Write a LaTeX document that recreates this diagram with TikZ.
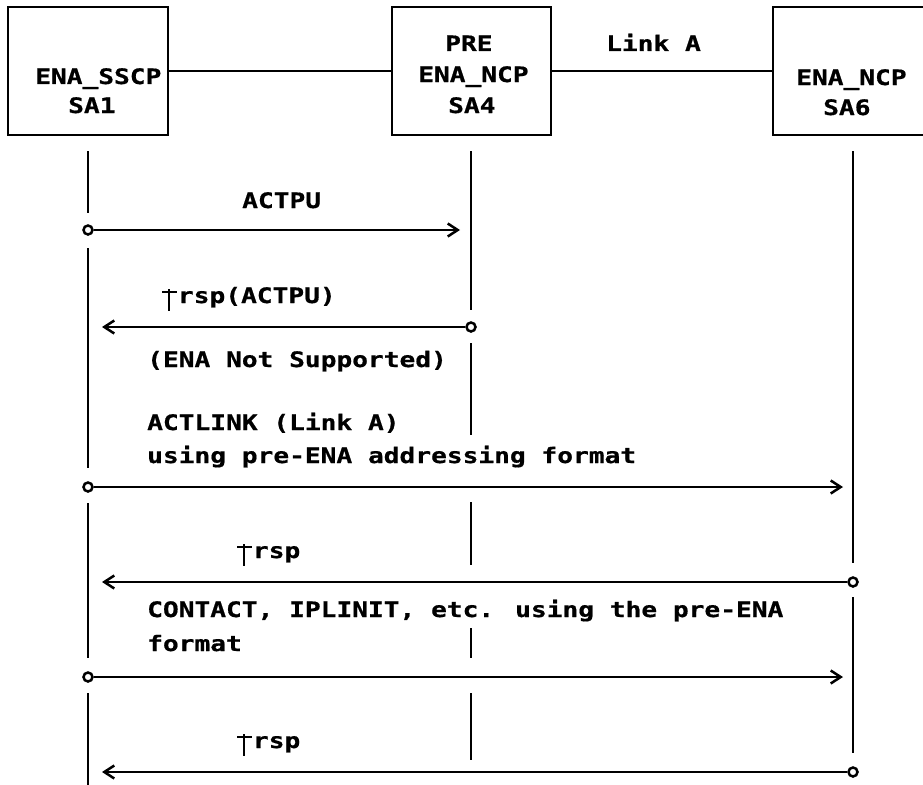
\documentclass[tikz,border=0pt]{standalone}
\usepackage{fontspec}
\newfontfamily\seqfont{DejaVu Sans Mono}[FakeStretch=1.23, BoldFeatures={FakeBold=0.7}]
\usetikzlibrary{arrows.meta}
% positive-response mark: crossbar near x-height, stem down into the descender
\newcommand\rspmark{\makebox[15.8pt][l]{\rule[10pt]{15pt}{2.5pt}\hspace{-9.4pt}\rule[-7.5pt]{2.6pt}{22pt}}}
\begin{document}
\begin{tikzpicture}[x=1pt,y=-1pt,
  lbl/.style={font=\seqfont\bfseries\fontsize{21.3}{26}\selectfont, anchor=base west, inner sep=0pt},
  box/.style={draw, line width=2.8pt, minimum height=128pt, inner sep=0pt},
  life/.style={line width=2.5pt},
  msg/.style={line width=2.3pt},
  tip/.style={-{Straight Barb[length=10pt,width=13pt,line width=2.5pt]}},
  ep/.style={circle, draw, line width=2.5pt, inner sep=0pt, minimum size=9pt, fill=white}]
\useasboundingbox (0,0) rectangle (923,784);
\clip (0,0) rectangle (923,784);

% nodes of the configuration
\node[box, minimum width=160pt] (sscp) at (88,71) {};
\node[box, minimum width=159pt] (pre) at (471.5,71) {};
\node[box, minimum width=159pt] (ncp) at (852.5,71) {};
\draw[life] (sscp.east) -- (pre.west);
\draw[life] (pre.east) -- (ncp.west);

\node[lbl] (t_sscp) at (35,84) {ENA\_SSCP};
\node[lbl] (t_sa1) at (68,113) {SA1};
\node[lbl] (t_pre) at (445,51) {PRE};
\node[lbl] (t_ncp4) at (418,82) {ENA\_NCP};
\node[lbl] (t_sa4) at (448,113) {SA4};
\node[lbl] (t_ncp6) at (796,85) {ENA\_NCP};
\node[lbl] (t_sa6) at (823,115) {SA6};
\node[lbl] (t_link) at (606,51) {Link A};

% lifelines
\draw[life] (88,151) -- (88,213);
\draw[life] (88,248) -- (88,468);
\draw[life] (88,503) -- (88,658);
\draw[life] (88,693) -- (88,790);
\draw[life] (471,151) -- (471,310);
\draw[life] (471,343) -- (471,435);
\draw[life] (471,502) -- (471,565);
\draw[life] (471,628) -- (471,658);
\draw[life] (471,693) -- (471,760);
\draw[life] (853,151) -- (853,563);
\draw[life] (853,597) -- (853,753);

% message flows
\node[ep] (o1) at (88,230) {};
\coordinate (t1) at (460,230);
\draw[msg,tip] (o1) -- (t1);
\node[lbl] (m1) at (242,208) {ACTPU};

\node[ep] (o2) at (471,327) {};
\coordinate (t2) at (102,327);
\draw[msg,tip] (o2) -- (t2);
\node[lbl] (m2) at (162,303) {\rspmark rsp(ACTPU)};
\node[lbl] (m2b) at (147,367) {(ENA Not Supported)};

\node[ep] (o3) at (88,487) {};
\coordinate (t3) at (843,487);
\draw[msg,tip] (o3) -- (t3);
\node[lbl] (m3) at (147,430) {ACTLINK (Link A)};
\node[lbl] (m3b) at (147,463) {using pre-ENA addressing format};

\node[ep] (o4) at (853,582) {};
\coordinate (t4) at (102,582);
\draw[msg,tip] (o4) -- (t4);
\node[lbl] (m4) at (237,558) {\rspmark rsp};

\node[ep] (o5) at (88,677) {};
\coordinate (t5) at (843,677);
\draw[msg,tip] (o5) -- (t5);
\node[lbl] (m5) at (147,617) {CONTACT, IPLINIT, etc. using the pre-ENA};
\node[lbl] (m5b) at (147,651) {format};

\node[ep] (o6) at (853,772) {};
\coordinate (t6) at (102,772);
\draw[msg,tip] (o6) -- (t6);
\node[lbl] (m6) at (237,748) {\rspmark rsp};
\end{tikzpicture}
\end{document}
